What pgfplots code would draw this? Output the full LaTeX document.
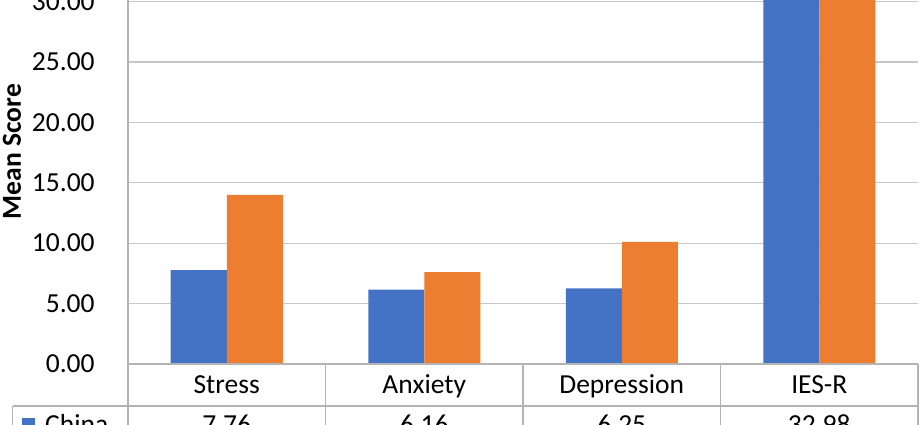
\documentclass[border=0pt]{standalone}
\usepackage{fontspec}
\setmainfont{Carlito}
\usepackage{pgfplots}
\pgfplotsset{compat=1.18}
\definecolor{cblue}{HTML}{4472C4}
\definecolor{corange}{HTML}{ED7D31}
\definecolor{gridc}{HTML}{C8C8C8}
\definecolor{tabc}{HTML}{B4B4B4}
\begin{document}
\fontsize{27.5pt}{33pt}\selectfont
\begin{tikzpicture}[x=1pt,y=1pt]
\useasboundingbox (-128,-61) rectangle (792,364);
\clip (-128,-61) rectangle (792,364);
\begin{axis}[
  scale only axis,
  width=790pt, height=374.6pt,
  xmin=-0.5, xmax=3.5, ymin=0, ymax=31,
  ybar=0pt, bar width=56pt,
  axis line style={draw=none},
  major tick length=0pt,
  xtick={0,1,2,3},
  xticklabels={Stress,Anxiety,Depression,IES-R},
  xticklabel style={anchor=base, yshift=-29.5pt},
  ytick={0,5,10,15,20,25,30},
  yticklabel style={/pgf/number format/fixed, /pgf/number format/zerofill, /pgf/number format/precision=2, /pgf/number format/assume math mode=true, anchor=east, xshift=-24pt},
  ymajorgrids, grid style={gridc, line width=1.2pt},
  ylabel={Mean Score},
  ylabel style={font=\bfseries, at={(axis description cs:-0.1468,0.567)}, anchor=center, rotate=0},
  clip=true,
]
\addplot[fill=cblue, draw=none] coordinates {(0,7.76) (1,6.16) (2,6.25) (3,32.98)};
\addplot[fill=corange, draw=none] coordinates {(0,14.0) (1,7.6) (2,10.1) (3,35.0)};
\end{axis}
% data table lines
\draw[tabc, line width=1.2pt] (0,-61) -- (0,364);
\draw[tabc, line width=1.2pt] (0,0) -- (790,0);
\draw[tabc, line width=1.2pt] (-115.3,-42) -- (790,-42);
\draw[tabc, line width=1.2pt] (-115.3,-42) -- (-115.3,-61);
\foreach \xx in {197.5,395,592.5,790} {\draw[tabc, line width=1.2pt] (\xx,0) -- (\xx,-61);}
\fill[cblue] (-106,-54) rectangle (-93,-67);
\node[anchor=base west, inner sep=0pt] at (-83,-70) {China};
\node[anchor=base, inner sep=0pt] at (98.75,-70) {7.76};
\node[anchor=base, inner sep=0pt] at (296.25,-70) {6.16};
\node[anchor=base, inner sep=0pt] at (493.75,-70) {6.25};
\node[anchor=base, inner sep=0pt] at (691.25,-70) {32.98};
\end{tikzpicture}
\end{document}
